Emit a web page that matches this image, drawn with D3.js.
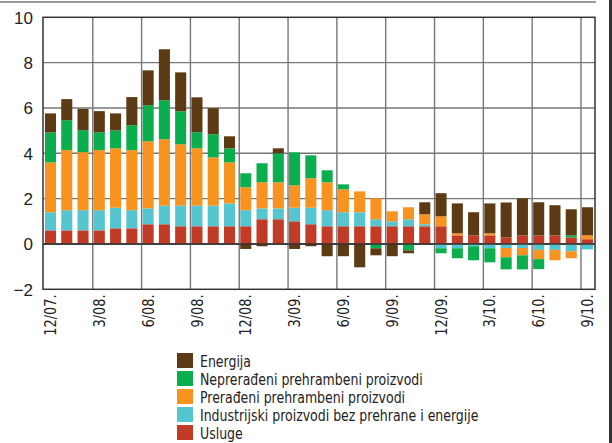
<!DOCTYPE html>
<html lang="hr">
<head>
<meta charset="UTF-8">
<title>Doprinosi inflaciji</title>
<script src="https://d3js.org/d3.v7.min.js"></script>
<style>
    body { margin: 0; background: #fff; }
    .narrow { font-family: "Liberation Sans Narrow", "DejaVu Sans Condensed", sans-serif; font-stretch: condensed; }
</style>
</head>
<body>
<svg id="chart" width="612" height="443"></svg>
<script>
    // months from 12/07 to 9/10
    const months = ["12/07", "1/08", "2/08", "3/08", "4/08", "5/08", "6/08", "7/08", "8/08", "9/08", "10/08", "11/08",
        "12/08", "1/09", "2/09", "3/09", "4/09", "5/09", "6/09", "7/09", "8/09", "9/09", "10/09", "11/09",
        "12/09", "1/10", "2/10", "3/10", "4/10", "5/10", "6/10", "7/10", "8/10", "9/10"];

    const usluge = [0.60, 0.60, 0.60, 0.60, 0.69, 0.69, 0.87, 0.87, 0.78, 0.78, 0.78, 0.78,
        0.78, 1.09, 1.09, 1.00, 0.87, 0.78, 0.78, 0.78, 0.78, 0.78, 0.78, 0.78,
        0.78, 0.38, 0.38, 0.38, 0.29, 0.38, 0.38, 0.38, 0.29, 0.21];
    const industrijski = [0.80, 0.89, 0.89, 0.89, 0.91, 0.80, 0.70, 0.82, 0.91, 0.91, 0.91, 1.01,
        0.71, 0.48, 0.48, 0.60, 0.73, 0.71, 0.62, 0.62, 0.31, 0.22, 0.31, 0.09,
        -0.19, -0.19, -0.10, -0.19, -0.18, -0.18, -0.26, -0.26, -0.32, -0.24];
    const preradjeni = [2.20, 2.65, 2.56, 2.65, 2.62, 2.65, 2.96, 2.93, 2.71, 2.53, 2.13, 1.81,
        1.01, 1.15, 1.15, 0.99, 1.30, 1.23, 1.01, 0.92, 0.92, 0.44, 0.53, 0.44,
        0.44, 0.09, 0, 0.09, -0.41, -0.32, -0.41, -0.46, -0.31, 0.17];
    const nepreradjeni = [1.32, 1.32, 0.97, 0.79, 0.79, 1.10, 1.59, 1.72, 1.45, 0.71, 1.02, 0.62,
        0.62, 0.84, 1.28, 1.45, 1.01, 0.53, 0.22, 0, -0.19, 0, -0.28, 0,
        -0.22, -0.44, -0.62, -0.62, -0.53, -0.62, -0.44, 0, 0.09, 0];
    const energija = [0.84, 0.93, 0.94, 0.93, 0.75, 1.24, 1.54, 2.25, 1.72, 1.54, 1.15, 0.53,
        -0.22, -0.10, 0.22, -0.22, -0.10, -0.54, -0.54, -1.03, -0.31, -0.54, -0.13, 0.53,
        1.02, 1.32, 1.02, 1.32, 1.54, 1.63, 1.46, 1.33, 1.15, 1.24];

    const seriesNames = ["Usluge", "Industrijski proizvodi bez prehrane i energije",
        "Prerađeni prehrambeni proizvodi", "Neprerađeni prehrambeni proizvodi", "Energija"];
    const seriesValues = [usluge, industrijski, preradjeni, nepreradjeni, energija];
    const colors = ["#c23b27", "#55c5d0", "#f7931e", "#0bae4e", "#5c3a14"];
    const yTicks = [-2, 0, 2, 4, 6, 8, 10];

    const svg = d3.select("#chart");
    const plot = { left: 43, right: 595, top: 17.3, bottom: 289.3 };

    // table for d3.stack
    const table = months.map((m, i) => {
        const row = { month: m };
        seriesNames.forEach((s, k) => row[s] = seriesValues[k][i]);
        return row;
    });
    const stacked = d3.stack().keys(seriesNames).offset(d3.stackOffsetDiverging)(table);

    const x = d3.scaleBand().domain(months).range([plot.left, plot.right]).paddingInner(0.32).paddingOuter(0.12);
    const y = d3.scaleLinear().domain([-2, 10]).range([plot.bottom, plot.top]);

    // top rule and right edge
    svg.append("line").attr("x1", 0).attr("x2", 596).attr("y1", 2).attr("y2", 2)
        .attr("stroke", "#999").attr("stroke-width", 2);
    svg.append("rect").attr("x", 609).attr("y", 0).attr("width", 3).attr("height", 443).attr("fill", "#333");

    // horizontal grid
    svg.append("g").selectAll("line").data(yTicks.filter(t => t > -2 && t < 10)).join("line")
        .attr("x1", plot.left).attr("x2", plot.right)
        .attr("y1", d => y(d)).attr("y2", d => y(d))
        .attr("stroke", d => d === 0 ? "#333" : "#777").attr("stroke-width", 1.4);

    // vertical grid every third month
    const tickMonths = months.filter((m, i) => i % 3 === 0);
    svg.append("g").selectAll("line").data(tickMonths.slice(1)).join("line")
        .attr("x1", d => x(d) - 1).attr("x2", d => x(d) - 1)
        .attr("y1", plot.top).attr("y2", plot.bottom)
        .attr("stroke", "#777").attr("stroke-width", 1.4);

    // bars
    svg.append("g").selectAll("g").data(stacked).join("g")
        .attr("fill", (d, i) => colors[i])
        .selectAll("rect").data(d => d).join("rect")
        .attr("x", d => x(d.data.month))
        .attr("width", x.bandwidth())
        .attr("y", d => y(Math.max(d[0], d[1])))
        .attr("height", d => Math.abs(y(d[0]) - y(d[1])));

    // zero line on top of bars
    svg.append("line").attr("x1", plot.left).attr("x2", plot.right).attr("y1", y(0)).attr("y2", y(0))
        .attr("stroke", "#333").attr("stroke-width", 1.4);

    // frame
    svg.append("rect").attr("x", plot.left).attr("y", plot.top)
        .attr("width", plot.right - plot.left).attr("height", plot.bottom - plot.top)
        .attr("fill", "none").attr("stroke", "#333").attr("stroke-width", 1.5);

    // y axis labels
    const yAxis = svg.append("g").attr("transform", `translate(${plot.left - 10},0)`)
        .call(d3.axisLeft(y).tickValues(yTicks).tickSize(0).tickPadding(0)
            .tickFormat(d => d < 0 ? "\u2212" + Math.abs(d) : d));
    yAxis.select(".domain").remove();
    yAxis.selectAll("text").attr("font-family", "Liberation Sans, Arial, sans-serif")
        .attr("font-size", 17).attr("fill", "#222").attr("dy", "0.35em");

    // x axis labels, rotated and squeezed a little
    const xAxis = svg.append("g").attr("transform", `translate(0,${plot.bottom + 5})`)
        .call(d3.axisBottom(x).tickValues(tickMonths).tickSize(0).tickFormat(d => d + "."));
    xAxis.select(".domain").remove();
    xAxis.selectAll("text").attr("class", "narrow").attr("font-size", 16).attr("fill", "#222")
        .attr("text-anchor", "end").attr("transform", "rotate(-90) scale(0.9,1)")
        .attr("x", 0).attr("y", 0).attr("dy", "0.35em");

    // legend
    const legendOrder = [4, 3, 2, 1, 0];
    const legend = svg.append("g").selectAll("g").data(legendOrder).join("g")
        .attr("transform", (d, i) => `translate(177,${353 + i * 18})`);
    legend.append("rect").attr("width", 16).attr("height", 15).attr("fill", d => colors[d]);
    legend.append("text").attr("class", "narrow")
        .attr("transform", "translate(23,14) scale(0.87,1)")
        .attr("font-size", 16).attr("fill", "#222").text(d => seriesNames[d]);
</script>
</body>
</html>
